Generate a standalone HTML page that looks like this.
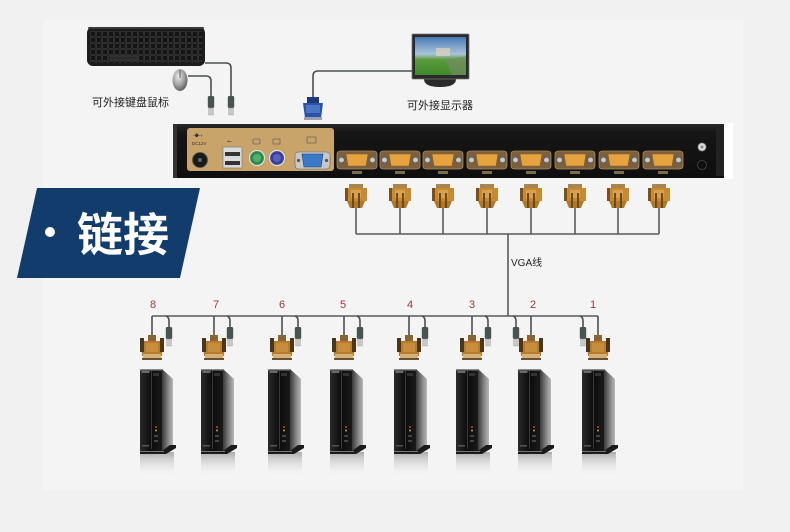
<!DOCTYPE html>
<html><head><meta charset="utf-8"><style>
html,body{margin:0;padding:0;background:#f1f1f1;}
svg{display:block;}
text{font-family:"Liberation Sans","Noto Sans CJK SC",sans-serif;}
</style></head><body>
<svg width="790" height="532" viewBox="0 0 790 532" xmlns="http://www.w3.org/2000/svg">
<defs>
  <linearGradient id="pcSide" x1="0" x2="1" y1="0" y2="0">
    <stop offset="0" stop-color="#3a3a3a"/><stop offset="0.6" stop-color="#8a8a8a"/><stop offset="1" stop-color="#b8b8b8"/>
  </linearGradient>
  <linearGradient id="pcFront" x1="0" x2="1" y1="0" y2="0">
    <stop offset="0" stop-color="#2a2a2a"/><stop offset="0.5" stop-color="#0c0c0c"/><stop offset="1" stop-color="#1a1a1a"/>
  </linearGradient>
  <linearGradient id="refl" x1="0" x2="0" y1="0" y2="1">
    <stop offset="0" stop-color="#9a9a9a" stop-opacity="0.8"/><stop offset="1" stop-color="#f1f1f1" stop-opacity="0"/>
  </linearGradient>
  <linearGradient id="screen" x1="0" x2="0" y1="0" y2="1">
    <stop offset="0" stop-color="#4a78b8"/><stop offset="0.45" stop-color="#a8c4d8"/><stop offset="0.6" stop-color="#5a9a3a"/><stop offset="1" stop-color="#3e8a2a"/>
  </linearGradient>
  <linearGradient id="dev" x1="0" x2="0" y1="0" y2="1">
    <stop offset="0" stop-color="#2a2a2a"/><stop offset="0.15" stop-color="#161616"/><stop offset="1" stop-color="#0e0e0e"/>
  </linearGradient>
  <radialGradient id="mouseG" cx="0.4" cy="0.35" r="0.7">
    <stop offset="0" stop-color="#eeeeee"/><stop offset="0.6" stop-color="#9a9a9a"/><stop offset="1" stop-color="#555"/>
  </radialGradient>
  <pattern id="keys" width="6" height="6" patternUnits="userSpaceOnUse" x="90" y="31">
    <rect x="0.6" y="0.6" width="4.6" height="4.6" fill="#151515" stroke="#5a5a5a" stroke-width="0.3"/>
  </pattern>

  <g id="pc">
    <rect x="0" y="83" width="34" height="24" fill="url(#refl)"/>
    <polygon points="22,0 33,10 33,76 22,83" fill="url(#pcSide)"/>
    <rect x="0" y="0" width="22" height="83" fill="url(#pcFront)"/>
    <rect x="0" y="0" width="22" height="1.5" fill="#8a8a8a"/>
    <rect x="1.5" y="2" width="8" height="2" fill="#6a6a6a"/>
    <rect x="11" y="2" width="1" height="78" fill="#3a3a3a"/>
    <rect x="13" y="4" width="6" height="3" fill="#333"/>
    <circle cx="16" cy="58" r="1" fill="#c84040"/>
    <circle cx="16" cy="61.5" r="1" fill="#a0b040"/>
    <rect x="14" y="66" width="4" height="2" fill="#444"/>
    <rect x="14" y="71" width="4" height="2" fill="#444"/>
    <rect x="2" y="76" width="7" height="1.5" fill="#555"/>
    <polygon points="0,82 22,82 30,76 36,76 36,79 26,85 0,85" fill="#1a1a1a"/>
    <rect x="0" y="82" width="24" height="1" fill="#777"/>
  </g>

  <g id="bconn">
    <rect x="-4" y="0" width="8" height="7" fill="#8a6434"/>
    <polygon points="-11,6 11,6 10,21 -10,21" fill="#b87a2c"/>
    <rect x="-12" y="3" width="4" height="14" fill="#4a3618"/>
    <rect x="8" y="3" width="4" height="14" fill="#4a3618"/>
    <rect x="-6" y="8" width="12" height="9" fill="#c68e3c"/>
    <rect x="-9" y="19" width="18" height="5" fill="#d4b07a"/>
    <rect x="-10" y="23" width="20" height="2" fill="#6a5030"/>
  </g>

  <g id="tconn">
    <rect x="-7" y="0" width="14" height="5" fill="#a8844e"/>
    <rect x="-11" y="4" width="22" height="13" fill="#c88a30"/>
    <rect x="-11" y="4" width="3" height="13" fill="#7a5020"/>
    <rect x="-5" y="6" width="10" height="8" fill="#d9a050"/>
    <polygon points="-9,17 9,17 6,24 -6,24" fill="#b07828"/>
    <rect x="-4" y="9" width="2" height="15" fill="#6a4a20"/>
    <rect x="2" y="9" width="2" height="15" fill="#6a4a20"/>
  </g>

  <g id="usb">
    <rect x="-3.2" y="0" width="6.4" height="12" rx="1.5" fill="#4a5252"/>
    <rect x="-2.4" y="12" width="4.8" height="7" fill="#c8c8c8" stroke="#999" stroke-width="0.4"/>
  </g>

  <g id="port">
    <path d="M-20,-6 Q-20,-9 -16,-9 L16,-9 Q20,-9 20,-6 L20,6 Q20,9 16,9 L-16,9 Q-20,9 -20,6 Z" fill="#7a6040" stroke="#a88a5a" stroke-width="0.8"/>
    <circle cx="-15.5" cy="0" r="2.8" fill="#c8c8c8" stroke="#555" stroke-width="0.6"/>
    <circle cx="15.5" cy="0" r="2.8" fill="#c8c8c8" stroke="#555" stroke-width="0.6"/>
    <path d="M-11,-6 L11,-6 L9,6 L-9,6 Z" fill="#e6a23e" stroke="#8a6020" stroke-width="0.6"/>
    <rect x="-5" y="11" width="10" height="3" fill="#7a6a50"/>
  </g>
</defs>

<rect x="0" y="0" width="790" height="532" fill="#f1f1f1"/>
<rect x="43" y="20" width="700" height="470" fill="#f4f4f4"/>

<!-- keyboard -->
<rect x="87" y="27" width="118" height="39" rx="6" fill="#1c1c1c"/>
<rect x="90" y="31" width="112" height="32" fill="url(#keys)"/>
<rect x="110" y="56" width="28" height="4" fill="#2a2a2a" stroke="#5a5a5a" stroke-width="0.3"/>
<rect x="88" y="27" width="116" height="2" rx="1" fill="#3a3a3a"/>

<ellipse cx="180" cy="80" rx="7.5" ry="11" fill="url(#mouseG)"/>
<line x1="180" y1="70" x2="180" y2="78" stroke="#444" stroke-width="0.8"/>

<path d="M205,63 L226,63 Q231,63 231,68 L231,96" fill="none" stroke="#4a4f4f" stroke-width="1.6"/>
<path d="M188,76 L206,76 Q211,76 211,81 L211,96" fill="none" stroke="#4a4f4f" stroke-width="1.6"/>
<use href="#usb" x="231" y="96"/>
<use href="#usb" x="211" y="96"/>
<text x="92" y="106" font-size="11" fill="#222">可外接键盘鼠标</text>

<!-- monitor -->
<path d="M424,79 L456,79 Q456,87 440,87 Q424,87 424,79 Z" fill="#2a2a2a"/>
<rect x="412" y="34" width="57" height="45" rx="1" fill="#2a2a2a" stroke="#777" stroke-width="0.8"/>
<rect x="415" y="37" width="51" height="38" fill="url(#screen)"/>
<rect x="436" y="48" width="14" height="8" fill="#d8d0c0" opacity="0.8"/>
<polygon points="445,60 466,56 466,75 452,75" fill="#7a8a6a" opacity="0.6"/>
<path d="M412,71 L318,71 Q313,71 313,76 L313,98" fill="none" stroke="#4a4f4f" stroke-width="1.6"/>
<rect x="307" y="97" width="12" height="7" fill="#1e3a7a"/>
<polygon points="303,103 323,103 321,118 305,118" fill="#2a54a8"/>
<rect x="306" y="105" width="14" height="8" fill="#4a74c4"/>
<rect x="304" y="117" width="18" height="3" fill="#9aa0b0"/>
<text x="407" y="109" font-size="11" fill="#222">可外接显示器</text>

<!-- KVM device -->
<rect x="724" y="123" width="9" height="56" fill="#ffffff"/>
<rect x="173" y="124" width="551" height="54" fill="url(#dev)"/>
<rect x="173" y="124" width="4" height="54" fill="#333"/>
<rect x="716" y="126" width="8" height="50" fill="#222"/>
<rect x="187" y="128" width="147" height="43" rx="3" fill="#c9a46a"/>
<text x="193" y="137" font-size="4.5" fill="#333">-◆-+</text>
<text x="192" y="145" font-size="4.5" fill="#333">DC12V</text>
<circle cx="200" cy="160" r="7.5" fill="#1a1a1a" stroke="#555" stroke-width="1"/>
<circle cx="200" cy="160" r="2" fill="#666"/>
<text x="227" y="143" font-size="6" fill="#333">⭠</text>
<rect x="223" y="147" width="19" height="21" fill="#d8d8d8" stroke="#777" stroke-width="0.6"/>
<rect x="225" y="150" width="15" height="6" fill="#333"/>
<rect x="225" y="159" width="15" height="6" fill="#333"/>
<rect x="225" y="150" width="15" height="2" fill="#ddd"/>
<rect x="225" y="159" width="15" height="2" fill="#ddd"/>
<rect x="253" y="139" width="7" height="5" rx="1" fill="none" stroke="#555" stroke-width="0.6"/>
<rect x="273" y="139" width="7" height="5" fill="none" stroke="#555" stroke-width="0.6"/>
<circle cx="257" cy="158" r="7.5" fill="#2e8a4a" stroke="#ddd" stroke-width="1.2"/>
<circle cx="257" cy="158" r="4" fill="#52b06a"/>
<circle cx="277" cy="158" r="7.5" fill="#3a3f98" stroke="#ddd" stroke-width="1.2"/>
<circle cx="277" cy="158" r="4" fill="#5a60c0"/>
<rect x="307" y="137" width="9" height="6" fill="none" stroke="#555" stroke-width="0.6"/>
<path d="M295,156 Q295,152 299,152 L326,152 Q330,152 330,156 L330,165 Q330,169 326,169 L299,169 Q295,169 295,165 Z" fill="#c8c8c8" stroke="#666" stroke-width="0.6"/>
<path d="M302,154 L323,154 L321,167 L304,167 Z" fill="#3a7ac8" stroke="#1a3a7a" stroke-width="0.6"/>
<circle cx="298.5" cy="160.5" r="1.6" fill="#555"/>
<circle cx="326.5" cy="160.5" r="1.6" fill="#555"/>
<use href="#port" x="357" y="160"/>
<use href="#port" x="400" y="160"/>
<use href="#port" x="443" y="160"/>
<use href="#port" x="487" y="160"/>
<use href="#port" x="531" y="160"/>
<use href="#port" x="575" y="160"/>
<use href="#port" x="619" y="160"/>
<use href="#port" x="663" y="160"/>
<circle cx="702" cy="147" r="4" fill="#ddd" stroke="#888" stroke-width="0.8"/>
<circle cx="702" cy="147" r="1.5" fill="#888"/>
<circle cx="702" cy="165" r="4.5" fill="none" stroke="#444" stroke-width="0.8"/>

<g stroke="#5a5a5a" stroke-width="1.6" fill="none">
  <line x1="356" y1="207" x2="356" y2="234"/>
  <line x1="400" y1="207" x2="400" y2="234"/>
  <line x1="443" y1="207" x2="443" y2="234"/>
  <line x1="487" y1="207" x2="487" y2="234"/>
  <line x1="531" y1="207" x2="531" y2="234"/>
  <line x1="575" y1="207" x2="575" y2="234"/>
  <line x1="618" y1="207" x2="618" y2="234"/>
  <line x1="659" y1="207" x2="659" y2="234"/>
  <line x1="356" y1="234" x2="659" y2="234"/>
  <line x1="508" y1="234" x2="508" y2="316"/>
  <line x1="152" y1="316" x2="598" y2="316"/>
</g>
<use href="#tconn" x="356" y="184"/>
<use href="#tconn" x="400" y="184"/>
<use href="#tconn" x="443" y="184"/>
<use href="#tconn" x="487" y="184"/>
<use href="#tconn" x="531" y="184"/>
<use href="#tconn" x="575" y="184"/>
<use href="#tconn" x="618" y="184"/>
<use href="#tconn" x="659" y="184"/>

<text x="511" y="266" font-size="10" fill="#222">VGA线</text>

<polygon points="37,188 200,188 180,278 17,278" fill="#123c6c"/>
<circle cx="50" cy="232" r="5" fill="#ffffff"/>
<text x="77" y="251" font-size="46" font-weight="bold" fill="#ffffff" font-family="Noto Sans CJK SC, sans-serif">链接</text>

<g font-size="11" fill="#a03a3a" text-anchor="middle">
  <text x="153" y="308">8</text>
  <text x="216" y="308">7</text>
  <text x="282" y="308">6</text>
  <text x="343" y="308">5</text>
  <text x="410" y="308">4</text>
  <text x="472" y="308">3</text>
  <text x="533" y="308">2</text>
  <text x="593" y="308">1</text>
</g>

<g stroke="#4a4f4f" stroke-width="1.6" fill="none">
  <line x1="152" y1="316" x2="152" y2="336"/>
  <line x1="214" y1="316" x2="214" y2="336"/>
  <line x1="282" y1="316" x2="282" y2="336"/>
  <line x1="344" y1="316" x2="344" y2="336"/>
  <line x1="409" y1="316" x2="409" y2="336"/>
  <line x1="472" y1="316" x2="472" y2="336"/>
  <line x1="531" y1="316" x2="531" y2="336"/>
  <line x1="598" y1="316" x2="598" y2="336"/>
  <path d="M166,316 Q169,317 169,321 L169,328"/>
  <path d="M227,316 Q230,317 230,321 L230,328"/>
  <path d="M295,316 Q298,317 298,321 L298,328"/>
  <path d="M357,316 Q360,317 360,321 L360,328"/>
  <path d="M422,316 Q425,317 425,321 L425,328"/>
  <path d="M485,316 Q488,317 488,321 L488,328"/>
  <path d="M513,316 Q516,317 516,321 L516,328"/>
  <path d="M580,316 Q583,317 583,321 L583,328"/>
</g>
<use href="#usb" x="169" y="327"/>
<use href="#usb" x="230" y="327"/>
<use href="#usb" x="298" y="327"/>
<use href="#usb" x="360" y="327"/>
<use href="#usb" x="425" y="327"/>
<use href="#usb" x="488" y="327"/>
<use href="#usb" x="516" y="327"/>
<use href="#usb" x="583" y="327"/>

<use href="#bconn" x="152" y="335"/>
<use href="#bconn" x="214" y="335"/>
<use href="#bconn" x="282" y="335"/>
<use href="#bconn" x="344" y="335"/>
<use href="#bconn" x="409" y="335"/>
<use href="#bconn" x="472" y="335"/>
<use href="#bconn" x="531" y="335"/>
<use href="#bconn" x="598" y="335"/>

<use href="#pc" x="140" y="369"/>
<use href="#pc" x="201" y="369"/>
<use href="#pc" x="268" y="369"/>
<use href="#pc" x="330" y="369"/>
<use href="#pc" x="394" y="369"/>
<use href="#pc" x="456" y="369"/>
<use href="#pc" x="518" y="369"/>
<use href="#pc" x="582" y="369"/>
</svg>
</body></html>
